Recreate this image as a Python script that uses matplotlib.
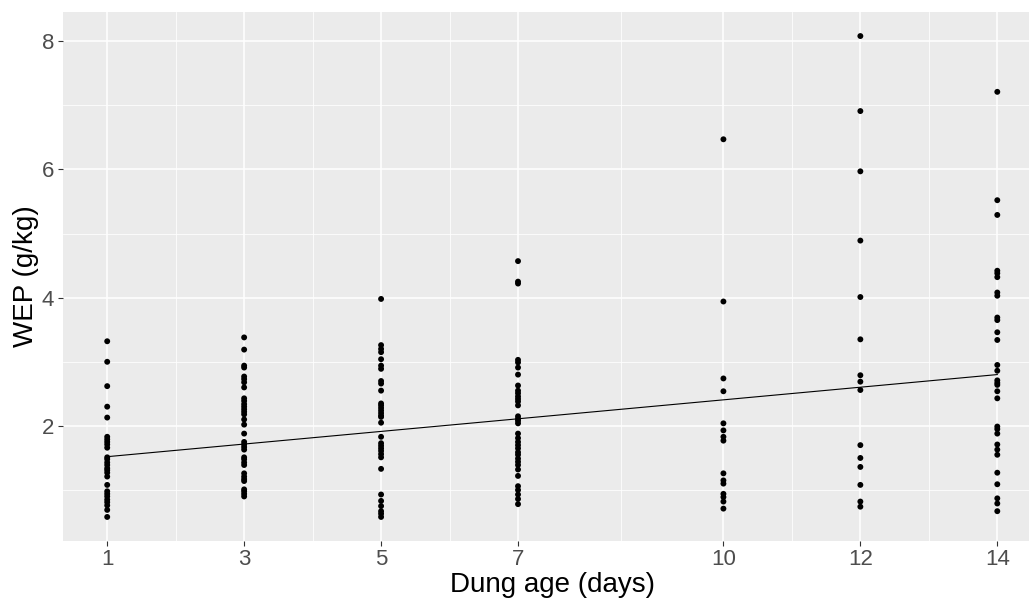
import numpy as np
import matplotlib.pyplot as plt
from matplotlib.ticker import FixedLocator

plt.rcParams['font.family'] = ['Liberation Sans', 'DejaVu Sans']

# WEP measurements (g/kg) by dung age (days)
days = [1, 3, 5, 7, 10, 12, 14]
wep_day1 = [3.32, 3.00, 2.62, 2.30, 2.13, 1.83, 1.79, 1.75, 1.71, 1.66, 1.51, 1.48, 1.43,
            1.39, 1.34, 1.31, 1.27, 1.21, 1.08, 0.98, 0.94, 0.90, 0.85, 0.81, 0.76, 0.69, 0.58]
wep_day3 = [3.38, 3.19, 2.94, 2.91, 2.77, 2.73, 2.68, 2.60, 2.43, 2.39, 2.34, 2.30, 2.26,
            2.22, 2.18, 2.10, 2.02, 1.88, 1.75, 1.71, 1.67, 1.63, 1.51, 1.48, 1.43, 1.39,
            1.26, 1.21, 1.17, 1.14, 1.01, 0.98, 0.94, 0.90]
wep_day5 = [3.98, 3.26, 3.20, 3.15, 3.04, 2.94, 2.89, 2.70, 2.66, 2.55, 2.35, 2.32, 2.28,
            2.24, 2.20, 2.16, 2.14, 2.05, 1.83, 1.73, 1.69, 1.65, 1.61, 1.56, 1.51, 1.33,
            0.93, 0.83, 0.75, 0.67, 0.63, 0.58]
wep_day7 = [4.57, 4.25, 4.22, 3.03, 2.99, 2.91, 2.80, 2.63, 2.55, 2.51, 2.46, 2.42, 2.38,
            2.32, 2.15, 2.11, 2.08, 2.04, 1.88, 1.81, 1.75, 1.70, 1.65, 1.59, 1.55, 1.49,
            1.44, 1.39, 1.32, 1.22, 1.06, 1.00, 0.93, 0.86, 0.78]
wep_day10 = [6.47, 3.94, 2.74, 2.54, 2.04, 1.93, 1.83, 1.77, 1.26, 1.15, 1.10, 0.94, 0.89,
             0.82, 0.71]
wep_day12 = [8.08, 6.91, 5.97, 4.89, 4.01, 3.35, 2.79, 2.69, 2.56, 1.70, 1.50, 1.36, 1.08,
             0.82, 0.74]
wep_day14 = [7.21, 5.52, 5.29, 4.42, 4.38, 4.32, 4.08, 4.03, 3.69, 3.65, 3.46, 3.34, 2.95,
             2.86, 2.71, 2.67, 2.64, 2.54, 2.43, 1.99, 1.95, 1.88, 1.71, 1.63, 1.55, 1.27,
             1.09, 0.87, 0.79, 0.67]
wep_by_day = [wep_day1, wep_day3, wep_day5, wep_day7, wep_day10, wep_day12, wep_day14]

# linear fit (lm) line
fit_intercept = 1.4215
fit_slope = 0.0985

x_all = np.concatenate([[d] * len(v) for d, v in zip(days, wep_by_day)])
y_all = np.concatenate(wep_by_day)

fig = plt.figure(figsize=(10.29, 6.0), dpi=100)
ax = fig.add_axes([62.7 / 1029, 59 / 600, (1041.8 - 62.7) / 1029, 529 / 600])
ax.set_facecolor('#EBEBEB')
for s in ax.spines.values():
    s.set_visible(False)

ax.scatter(x_all, y_all, s=18, color='black', edgecolors='none', zorder=3)
xfit = np.array([min(days), max(days)])
ax.plot(xfit, fit_intercept + fit_slope * xfit, color='black', lw=0.8, zorder=2)

# ggplot-like 5% expansion
xr = max(days) - min(days)
ax.set_xlim(min(days) - 0.05 * xr, max(days) + 0.05 * xr)
yr = y_all.max() - y_all.min()
ax.set_ylim(y_all.min() - 0.05 * yr, y_all.max() + 0.05 * yr)

ax.set_xticks(days)
ax.xaxis.set_minor_locator(FixedLocator([2, 4, 6, 8.5, 11, 13]))
ax.set_yticks([2, 4, 6, 8])
ax.yaxis.set_minor_locator(FixedLocator([1, 3, 5, 7]))
ax.grid(which='major', color='white', lw=1.1)
ax.grid(which='minor', color='white', lw=0.55)
ax.set_axisbelow(True)
ax.tick_params(which='major', length=3.5, width=0.8, color='#333333',
               labelsize=16, labelcolor='#4D4D4D', pad=2.5)
ax.tick_params(which='minor', length=0)

ax.set_xlabel('Dung age (days)', fontsize=20, labelpad=1)
ax.set_ylabel('WEP (g/kg)', fontsize=20, labelpad=2)

fig.savefig('out.png', dpi=100)
